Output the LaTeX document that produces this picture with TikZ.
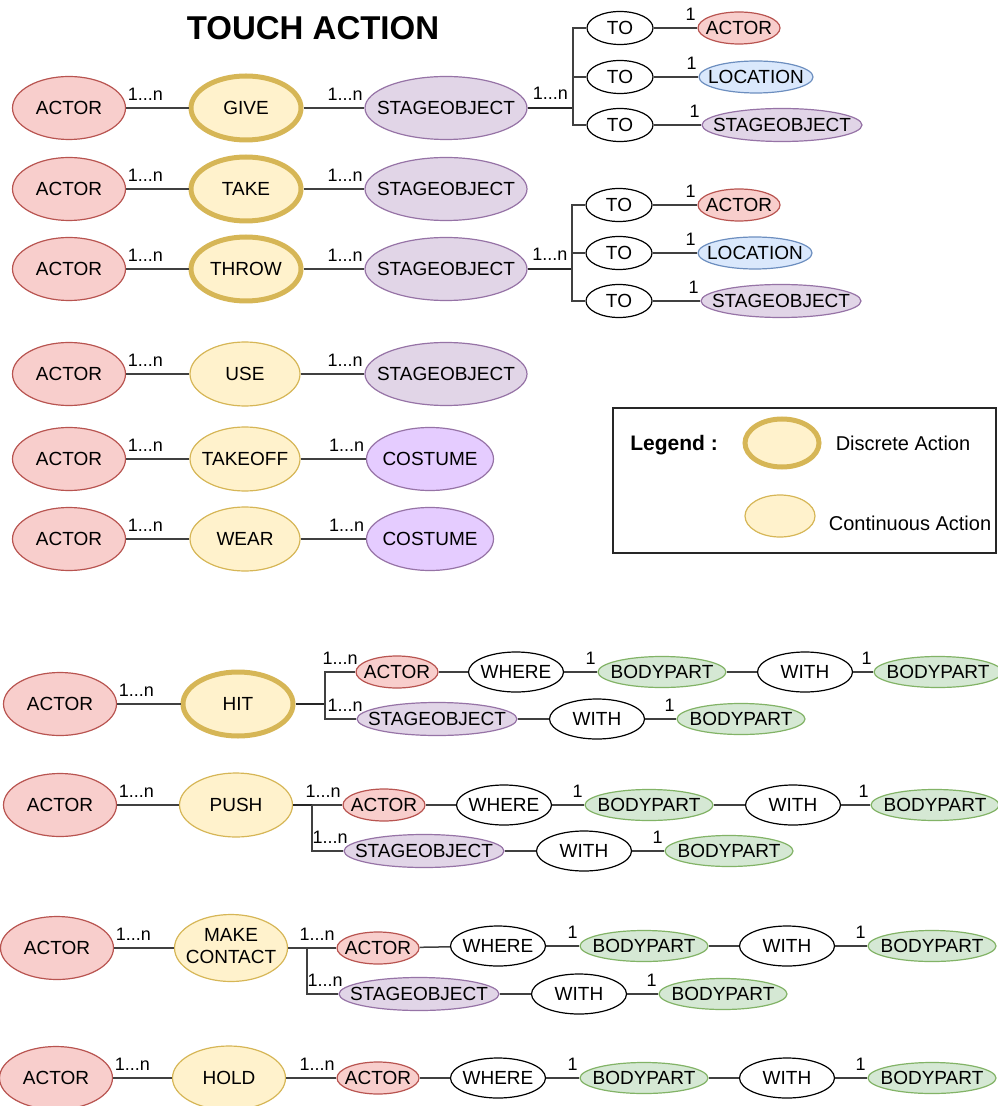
\documentclass[tikz,border=0pt]{standalone}
\usepackage{fontspec}
\setmainfont{Liberation Sans}
\usetikzlibrary{shapes.geometric}
\definecolor{actorfill}{HTML}{F8CECC}
\definecolor{actorline}{HTML}{B85450}
\definecolor{objfill}{HTML}{E1D5E7}
\definecolor{objline}{HTML}{9673A6}
\definecolor{costfill}{HTML}{E5CCFF}
\definecolor{locfill}{HTML}{DAE8FC}
\definecolor{locline}{HTML}{6C8EBF}
\definecolor{partfill}{HTML}{D5E8D4}
\definecolor{partline}{HTML}{82B366}
\definecolor{actfill}{HTML}{FFF2CC}
\definecolor{actline}{HTML}{D6B656}
\begin{document}
\begin{tikzpicture}[x=0.5pt, y=-0.5pt]
      % Styles
      \tikzstyle{ent} = [ellipse, inner sep=0pt, line width=0.6pt, font=\fontsize{9.5}{11}\selectfont,
                         execute at begin node={\hbox to 0pt\bgroup\hss}, execute at end node={\hss\egroup}]
      \tikzstyle{bactor} = [ent, draw=actorline, fill=actorfill, minimum width=56.5pt, minimum height=31.5pt]
      \tikzstyle{sactor} = [ent, draw=actorline, fill=actorfill, minimum width=41pt, minimum height=16pt]
      \tikzstyle{bobject} = [ent, draw=objline, fill=objfill, minimum width=81pt, minimum height=31.5pt]
      \tikzstyle{sobject} = [ent, draw=objline, fill=objfill, minimum width=80pt, minimum height=16.5pt]
      \tikzstyle{costume} = [ent, draw=objline, fill=costfill, minimum width=63.5pt, minimum height=31.5pt]
      \tikzstyle{place} = [ent, draw=locline, fill=locfill, minimum width=57pt, minimum height=16pt]
      \tikzstyle{bodypart} = [ent, draw=partline, fill=partfill, minimum width=64pt, minimum height=15.5pt]
      \tikzstyle{relbox} = [ent, draw=black, fill=white, minimum width=47.5pt, minimum height=20pt]
      \tikzstyle{tobox} = [relbox, minimum width=33pt, minimum height=16.5pt]
      \tikzstyle{discrete} = [ent, draw=actline, fill=actfill, line width=2.5pt, minimum width=55pt, minimum height=32pt]
      \tikzstyle{continuous} = [ent, draw=actline, fill=actfill, minimum width=55pt, minimum height=32pt]
      \tikzstyle{card} = [font=\fontsize{9}{10}\selectfont, inner xsep=0.5pt, inner ysep=3.5pt]
      \tikzstyle{link} = [draw=black!75, line width=0.75pt]
      \tikzstyle{thk} = [draw=black!85, line width=1.4pt]

      \useasboundingbox (0,0) rectangle (997,1106);

      % Title and legend
      \node[font=\fontsize{16.5}{20}\selectfont\bfseries] (title) at (313,28) {TOUCH ACTION};
      \node[draw=black!85, line width=0.75pt, minimum width=191.5pt, minimum height=72.5pt] (legend) at (804.5,480.5) {};
      \node[font=\fontsize{10.5}{12}\selectfont\bfseries] (lgd) at (674,445) {Legend :};
      \node[discrete, minimum width=37pt, minimum height=24pt] (ldisc) at (782,443) {};
      \node[continuous, minimum width=35pt, minimum height=21pt] (lcont) at (780,516) {};
      \node[font=\fontsize{10}{12}\selectfont] (ldisctext) at (903,443) {Discrete Action};
      \node[font=\fontsize{10}{12}\selectfont] (lconttext) at (910,523) {Continuous Action};

      % Nodes: GIVE
      \node[bactor] (a1) at (69,108) {ACTOR};
      \node[discrete] (give) at (246,108) {GIVE};
      \node[bobject] (s1) at (446,108) {STAGEOBJECT};
      \coordinate (j1) at (573,108);
      \node[tobox] (t1a) at (620,28) {TO};
      \node[tobox] (t1b) at (620,77) {TO};
      \node[tobox] (t1c) at (620,125) {TO};
      \node[sactor] (r1a) at (739,28) {ACTOR};
      \node[place] (r1b) at (756,77) {LOCATION};
      \node[sobject] (r1c) at (782,125) {STAGEOBJECT};

      % Nodes: TAKE, THROW
      \node[bactor] (a2) at (69,189) {ACTOR};
      \node[discrete] (take) at (246,189) {TAKE};
      \node[bobject] (s2) at (446,189) {STAGEOBJECT};
      \node[bactor] (a3) at (69,269) {ACTOR};
      \node[discrete] (throw) at (246,269) {THROW};
      \node[bobject] (s3) at (446,269) {STAGEOBJECT};
      \coordinate (j3) at (572,269);
      \node[tobox] (t3a) at (619,205) {TO};
      \node[tobox] (t3b) at (619,253) {TO};
      \node[tobox] (t3c) at (619,301) {TO};
      \node[sactor] (r3a) at (739,205) {ACTOR};
      \node[place] (r3b) at (755,253) {LOCATION};
      \node[sobject] (r3c) at (781,301) {STAGEOBJECT};

      % Nodes: USE, TAKEOFF, WEAR
      \node[bactor] (a4) at (69,374) {ACTOR};
      \node[continuous] (use) at (245,374) {USE};
      \node[bobject] (s4) at (446,374) {STAGEOBJECT};
      \node[bactor] (a5) at (69,459) {ACTOR};
      \node[continuous] (takeoff) at (245,459) {TAKEOFF};
      \node[costume] (c5) at (430,459) {COSTUME};
      \node[bactor] (a6) at (69,539) {ACTOR};
      \node[continuous] (wear) at (245,539) {WEAR};
      \node[costume] (c6) at (430,539) {COSTUME};

      % Nodes: HIT
      \node[bactor] (a7) at (60,704) {ACTOR};
      \node[discrete] (hit) at (238,704) {HIT};
      \coordinate (j7) at (325,704);
      \node[sactor] (h7a) at (397,672) {ACTOR};
      \node[sobject] (h7s) at (437,719) {STAGEOBJECT};
      \node[relbox] (w7a) at (516,672) {WHERE};
      \node[bodypart] (b7a) at (662,672) {BODYPART};
      \node[relbox] (w7b) at (805,672) {WITH};
      \node[bodypart] (b7b) at (938,672) {BODYPART};
      \node[relbox] (w7c) at (597,719) {WITH};
      \node[bodypart] (b7c) at (741,719) {BODYPART};

      % Nodes: PUSH
      \node[bactor] (a8) at (60,805) {ACTOR};
      \node[continuous, minimum width=56.5pt] (push) at (236,805) {PUSH};
      \coordinate (j8) at (312,805);
      \node[sactor] (h8a) at (384,805) {ACTOR};
      \node[sobject] (h8s) at (424,851) {STAGEOBJECT};
      \node[relbox] (w8a) at (504,805) {WHERE};
      \node[bodypart] (b8a) at (649,805) {BODYPART};
      \node[relbox] (w8b) at (793,805) {WITH};
      \node[bodypart] (b8b) at (935,805) {BODYPART};
      \node[relbox] (w8c) at (584,851) {WITH};
      \node[bodypart] (b8c) at (729,851) {BODYPART};

      % Nodes: MAKE CONTACT
      \node[bactor] (a9) at (57,948) {ACTOR};
      \node[continuous, minimum width=56.5pt, minimum height=33.5pt] (contact) at (231,948)
            {\begin{tabular}{@{}c@{}}MAKE\\CONTACT\end{tabular}};
      \coordinate (j9) at (307,948);
      \node[sactor] (h9a) at (378,948) {ACTOR};
      \node[sobject] (h9s) at (419,994) {STAGEOBJECT};
      \node[relbox] (w9a) at (498,946) {WHERE};
      \node[bodypart] (b9a) at (644,946) {BODYPART};
      \node[relbox] (w9b) at (787,946) {WITH};
      \node[bodypart] (b9b) at (932,946) {BODYPART};
      \node[relbox] (w9c) at (579,994) {WITH};
      \node[bodypart] (b9c) at (723,994) {BODYPART};

      % Nodes: HOLD
      \node[bactor] (a10) at (56,1078) {ACTOR};
      \node[continuous, minimum width=56.5pt] (hold) at (229,1078) {HOLD};
      \node[sactor] (h10a) at (378,1078) {ACTOR};
      \node[relbox] (w10a) at (498,1078) {WHERE};
      \node[bodypart] (b10a) at (644,1078) {BODYPART};
      \node[relbox] (w10b) at (787,1078) {WITH};
      \node[bodypart] (b10b) at (932,1078) {BODYPART};

      % Links: GIVE, TAKE, THROW
      \draw[link] (a1) -- node[card, pos=0, above right] {1...n} (give);
      \draw[link] (give) -- node[card, pos=1, above left] {1...n} (s1);
      \draw[thk] (s1) -- node[card, above] {1...n} (j1);
      \draw[link] (j1) |- (t1a);
      \draw[link] (j1) |- (t1b);
      \draw[link] (j1) |- (t1c);
      \draw[link] (t1a) -- node[card, pos=1, above left] {1} (r1a);
      \draw[link] (t1b) -- node[card, pos=1, above left] {1} (r1b);
      \draw[link] (t1c) -- node[card, pos=1, above left] {1} (r1c);
      \draw[link] (a2) -- node[card, pos=0, above right] {1...n} (take);
      \draw[link] (take) -- node[card, pos=1, above left] {1...n} (s2);
      \draw[link] (a3) -- node[card, pos=0, above right] {1...n} (throw);
      \draw[link] (throw) -- node[card, pos=1, above left] {1...n} (s3);
      \draw[thk] (s3) -- node[card, above] {1...n} (j3);
      \draw[link] (j3) |- (t3a);
      \draw[link] (j3) |- (t3b);
      \draw[link] (j3) |- (t3c);
      \draw[link] (t3a) -- node[card, pos=1, above left] {1} (r3a);
      \draw[link] (t3b) -- node[card, pos=1, above left] {1} (r3b);
      \draw[link] (t3c) -- node[card, pos=1, above left] {1} (r3c);

      % Links: USE, TAKEOFF, WEAR
      \draw[link] (a4) -- node[card, pos=0, above right] {1...n} (use);
      \draw[link] (use) -- node[card, pos=1, above left] {1...n} (s4);
      \draw[link] (a5) -- node[card, pos=0, above right] {1...n} (takeoff);
      \draw[link] (takeoff) -- node[card, pos=1, above left] {1...n} (c5);
      \draw[link] (a6) -- node[card, pos=0, above right] {1...n} (wear);
      \draw[link] (wear) -- node[card, pos=1, above left] {1...n} (c6);

      % Links: HIT
      \draw[link] (a7) -- node[card, pos=0, above right] {1...n} (hit);
      \draw[thk] (hit) -- (j7);
      \draw[link] (j7) |- node[card, pos=1, above left, xshift=2pt] {1...n} (h7a);
      \draw[link] (j7) |- node[card, pos=1, above left, xshift=4pt] {1...n} (h7s);
      \draw[link] (h7a) -- (w7a);
      \draw[link] (w7a) -- node[card, pos=1, above left] {1} (b7a);
      \draw[link] (b7a) -- (w7b);
      \draw[link] (w7b) -- node[card, pos=1, above left] {1} (b7b);
      \draw[link] (h7s) -- (w7c);
      \draw[link] (w7c) -- node[card, pos=1, above left] {1} (b7c);

      % Links: PUSH
      \draw[link] (a8) -- node[card, pos=0, above right] {1...n} (push);
      \draw[thk] (push) -- (j8);
      \draw[link] (j8) -- node[card, pos=1, above left] {1...n} (h8a);
      \draw[link] (j8) |- node[card, pos=1, above left, xshift=3pt] {1...n} (h8s);
      \draw[link] (h8a) -- (w8a);
      \draw[link] (w8a) -- node[card, pos=1, above left] {1} (b8a);
      \draw[link] (b8a) -- (w8b);
      \draw[link] (w8b) -- node[card, pos=1, above left] {1} (b8b);
      \draw[link] (h8s) -- (w8c);
      \draw[link] (w8c) -- node[card, pos=1, above left] {1} (b8c);

      % Links: MAKE CONTACT
      \draw[link] (a9) -- node[card, pos=0, above right] {1...n} (contact);
      \draw[link] (contact) -- node[card, pos=1, above left] {1...n} (h9a);
      \draw[link] (j9) |- node[card, pos=1, above left, xshift=3pt] {1...n} (h9s);
      \draw[link] (h9a) -- (w9a);
      \draw[link] (w9a) -- node[card, pos=1, above left] {1} (b9a);
      \draw[link] (b9a) -- (w9b);
      \draw[link] (w9b) -- node[card, pos=1, above left] {1} (b9b);
      \draw[link] (h9s) -- (w9c);
      \draw[link] (w9c) -- node[card, pos=1, above left] {1} (b9c);

      % Links: HOLD
      \draw[link] (a10) -- node[card, pos=0, above right] {1...n} (hold);
      \draw[link] (hold) -- node[card, pos=1, above left] {1...n} (h10a);
      \draw[link] (h10a) -- (w10a);
      \draw[link] (w10a) -- node[card, pos=1, above left] {1} (b10a);
      \draw[link] (b10a) -- (w10b);
      \draw[link] (w10b) -- node[card, pos=1, above left] {1} (b10b);
  \end{tikzpicture}
\end{document}
